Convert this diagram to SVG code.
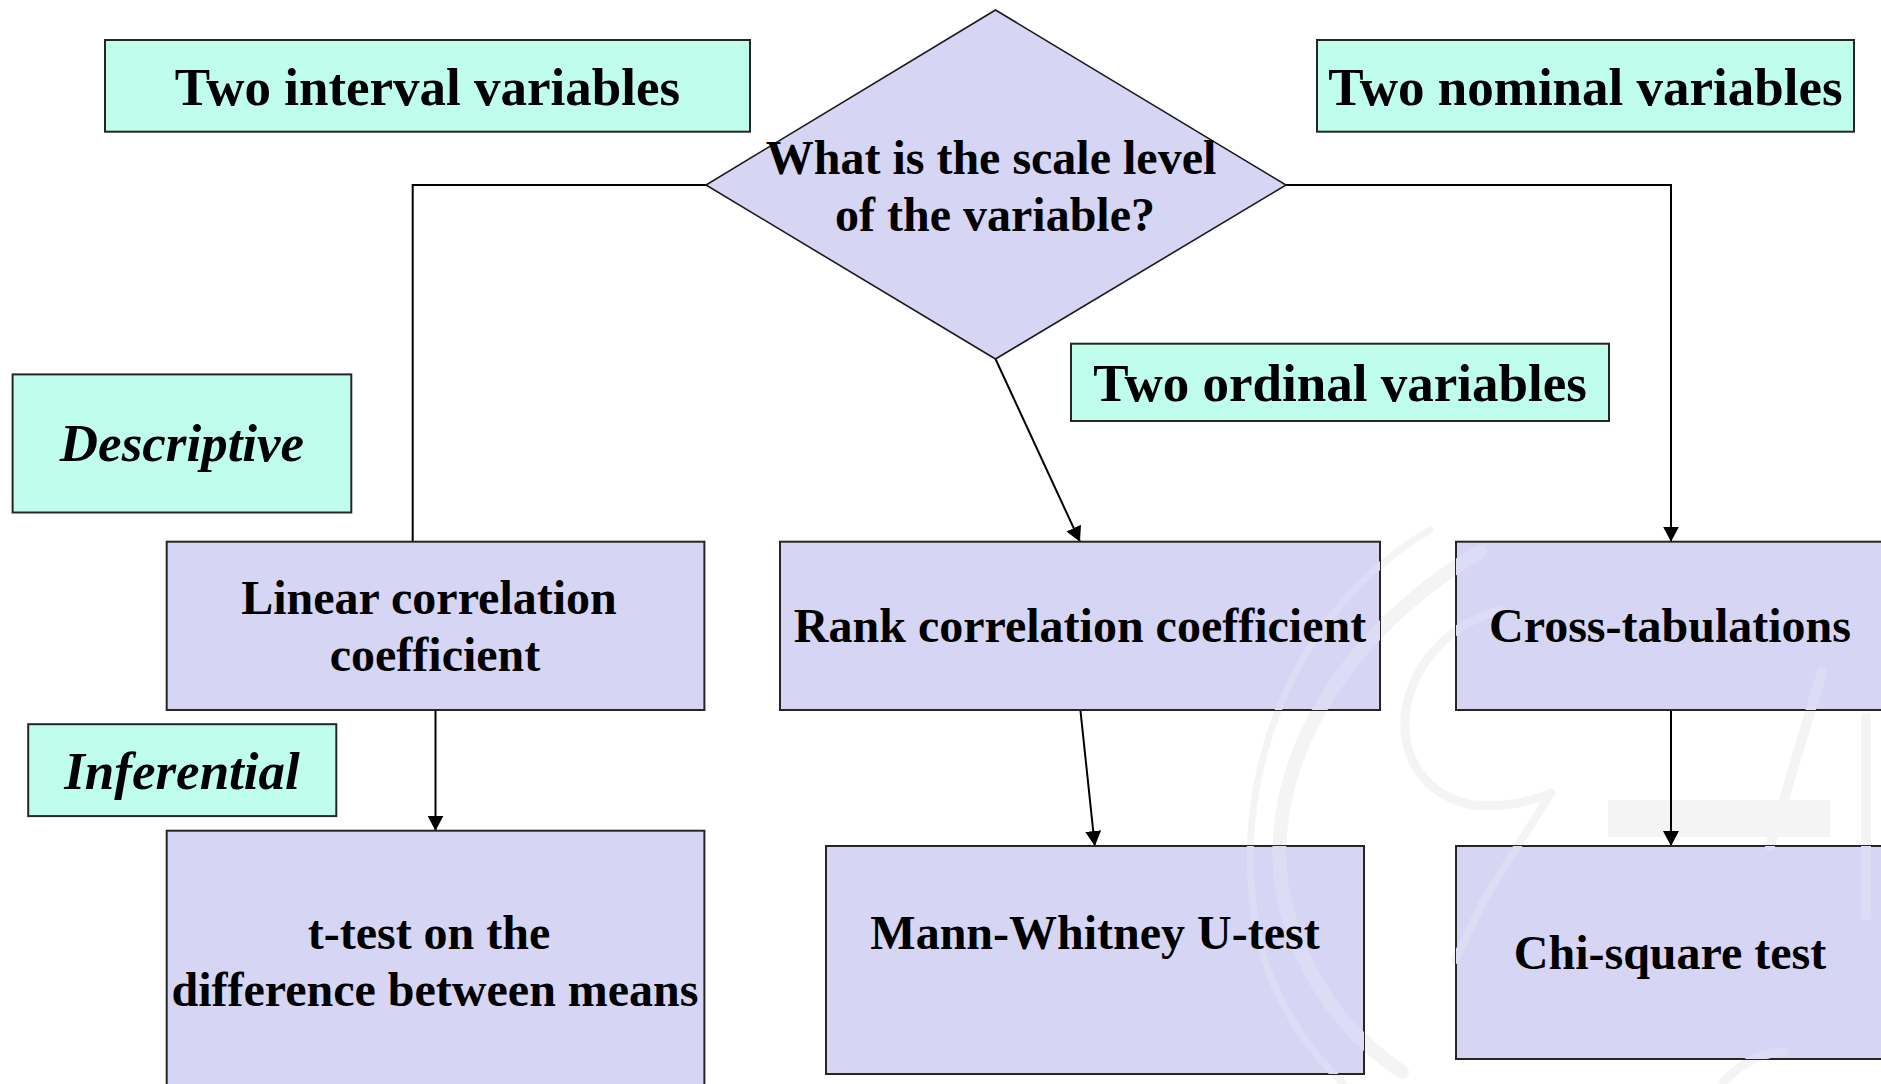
<svg xmlns="http://www.w3.org/2000/svg" width="1881" height="1084" viewBox="0 0 1881 1084">
  <style>
    .label { fill: #BFFDEC; stroke: #262626; stroke-width: 2; }
    .box { fill: #D6D6F4; stroke: #262626; stroke-width: 2; }
    .decision { fill: #D6D6F4; stroke: #1a1a1a; stroke-width: 1.6; }
    .edge { fill: none; stroke: #000; stroke-width: 2; }
    .t { font-family: "Liberation Serif", "Times New Roman", serif; font-weight: bold; fill: #000; text-anchor: middle; }
    .lt { font-size: 53px; }
    .bt { font-size: 48px; }
    .it { font-style: italic; }
    .em { fill: none; stroke: currentColor; stroke-linecap: round; }
    .emblem-bg { color: #F4F4F4; }
    .emblem-in { color: #DCDCF5; }
  </style>
  <defs>
    <marker id="arrow" markerUnits="userSpaceOnUse" markerWidth="16" markerHeight="16" refX="15" refY="8" orient="auto">
      <path d="M0,0 L15,8 L0,16 Z" fill="#000"/>
    </marker>
    <!-- faint emblem artwork, reused behind the page and inside the boxes -->
    <g id="emblem-art">
      <path class="em" stroke-width="14" d="M1480,552 C1330,640 1252,790 1288,915 C1312,995 1355,1040 1402,1072"/>
      <path class="em" stroke-width="7" d="M1430,530 C1285,615 1228,790 1258,935 C1275,1010 1315,1058 1350,1090"/>
      <path class="em" stroke-width="9" d="M1502,610 C1440,625 1402,680 1405,730 C1408,775 1440,800 1475,805 C1510,808 1535,800 1551,793"/>
      <path class="em" stroke-width="8" d="M1551,793 L1485,898 L1455,960"/>
      <path class="em" stroke-width="10" d="M1822,672 L1770,846"/>
      <path class="em" stroke-width="10" d="M1866,718 L1866,916"/>
      <rect x="1608" y="800" width="222" height="37" fill="currentColor"/>
      <path class="em" stroke-width="9" d="M1722,1084 C1740,1062 1765,1052 1784,1052"/>
    </g>
    <clipPath id="clip-rank"><rect x="780" y="541.7" width="600" height="168.3"/></clipPath>
    <clipPath id="clip-cross"><rect x="1456" y="541.7" width="440" height="168.3"/></clipPath>
    <clipPath id="clip-mann"><rect x="826" y="846" width="538" height="228"/></clipPath>
    <clipPath id="clip-chi"><rect x="1456" y="846" width="440" height="213"/></clipPath>
  </defs>

  <rect width="1881" height="1084" fill="#fff"/>
  <use href="#emblem-art" class="emblem-bg"/>

  <!-- connectors -->
  <g id="connectors">
    <polyline class="edge" points="706,185 412.7,185 412.7,541.7"/>
    <polyline class="edge" points="1286,185 1671,185 1671,541.7" marker-end="url(#arrow)"/>
    <line class="edge" x1="995.5" y1="359" x2="1080" y2="541.7" marker-end="url(#arrow)"/>
    <line class="edge" x1="435.5" y1="710" x2="435.5" y2="830.7" marker-end="url(#arrow)"/>
    <line class="edge" x1="1080.4" y1="710" x2="1094.8" y2="846" marker-end="url(#arrow)"/>
    <line class="edge" x1="1671" y1="710" x2="1671" y2="846" marker-end="url(#arrow)"/>
  </g>

  <!-- category labels -->
  <g id="two-interval">
    <rect class="label" x="105" y="40" width="645" height="91.7"/>
    <text class="t lt" x="427.5" y="105">Two interval variables</text>
  </g>
  <g id="two-nominal">
    <rect class="label" x="1317" y="40" width="537" height="91.7"/>
    <text class="t lt" x="1585.5" y="105">Two nominal variables</text>
  </g>
  <g id="two-ordinal">
    <rect class="label" x="1071" y="343.7" width="538" height="77.3"/>
    <text class="t lt" x="1340" y="401">Two ordinal variables</text>
  </g>
  <g id="descriptive">
    <rect class="label" x="12.6" y="374.4" width="338.7" height="138.1"/>
    <text class="t lt it" x="182" y="461">Descriptive</text>
  </g>
  <g id="inferential">
    <rect class="label" x="28.2" y="724.2" width="308.1" height="91.9"/>
    <text class="t lt it" x="182" y="789">Inferential</text>
  </g>

  <!-- decision -->
  <g id="scale-level">
    <polygon class="decision" points="995.5,10 1286,185 995.5,359 706,185"/>
    <text class="t bt" x="991" y="174">What is the scale level</text>
    <text class="t bt" x="995" y="231">of the variable?</text>
  </g>

  <!-- methods -->
  <g id="linear-correlation">
    <rect class="box" x="166.7" y="541.7" width="537.7" height="168.3"/>
    <text class="t bt" x="429" y="614">Linear correlation</text>
    <text class="t bt" x="435" y="671">coefficient</text>
  </g>
  <g id="rank-correlation">
    <rect class="box" x="780" y="541.7" width="600" height="168.3"/>
    <use href="#emblem-art" class="emblem-in" clip-path="url(#clip-rank)"/>
    <text class="t bt" x="1080" y="642">Rank correlation coefficient</text>
  </g>
  <g id="cross-tabulations">
    <rect class="box" x="1456" y="541.7" width="440" height="168.3"/>
    <use href="#emblem-art" class="emblem-in" clip-path="url(#clip-cross)"/>
    <text class="t bt" x="1670" y="642">Cross-tabulations</text>
  </g>
  <g id="t-test">
    <rect class="box" x="166.7" y="830.7" width="537.7" height="270"/>
    <text class="t bt" x="429" y="949">t-test on the</text>
    <text class="t bt" x="435" y="1006">difference between means</text>
  </g>
  <g id="mann-whitney">
    <rect class="box" x="826" y="846" width="538" height="228"/>
    <use href="#emblem-art" class="emblem-in" clip-path="url(#clip-mann)"/>
    <text class="t bt" x="1095" y="949">Mann-Whitney U-test</text>
  </g>
  <g id="chi-square">
    <rect class="box" x="1456" y="846" width="440" height="213"/>
    <use href="#emblem-art" class="emblem-in" clip-path="url(#clip-chi)"/>
    <text class="t bt" x="1670" y="969">Chi-square test</text>
  </g>
</svg>
